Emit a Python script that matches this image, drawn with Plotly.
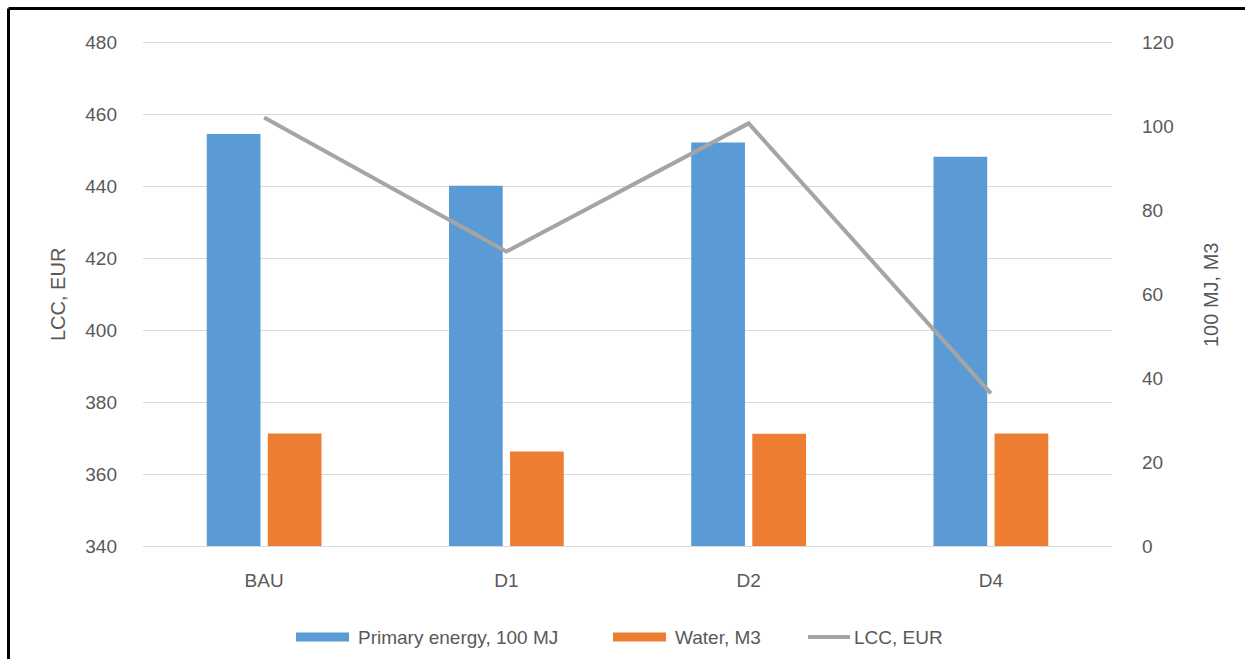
import plotly.graph_objects as go

categories = ["BAU", "D1", "D2", "D4"]
primary_energy = [98.1, 85.8, 96.1, 92.7]   # 100 MJ (right axis)
water = [26.8, 22.5, 26.7, 26.8]            # M3 (right axis)
lcc = [459.0, 421.8, 457.4, 382.4]          # EUR (left axis)

left_ticks = [340, 360, 380, 400, 420, 440, 460, 480]
right_ticks = [0, 20, 40, 60, 80, 100, 120]

BLUE = "#5B9BD5"
ORANGE = "#ED7D31"
GRAY = "#A5A5A5"
TEXT = "#595959"
FONT = "Liberation Sans, Arial, sans-serif"

fig = go.Figure()
fig.add_trace(go.Bar(x=categories, y=primary_energy, name="Primary energy, 100 MJ",
                     marker=dict(color=BLUE, line=dict(width=0)), yaxis="y", showlegend=False))
fig.add_trace(go.Bar(x=categories, y=water, name="Water, M3",
                     marker=dict(color=ORANGE, line=dict(width=0)), yaxis="y", showlegend=False))
fig.add_trace(go.Scatter(x=categories, y=lcc, name="LCC, EUR", mode="lines",
                         line=dict(color=GRAY, width=4), yaxis="y2", showlegend=False))

W, H = 1245, 659
# data frame: 480 / 120 at y=42, 340 / 0 at y=546; plot area padded by 2px so edge gridlines show
PAD = 2
L, R, T, B = 143, 1112, 42 - PAD, 546 + PAD

pl = PAD * 140 / 504
pr = PAD * 120 / 504

fig.update_layout(
    width=W, height=H,
    margin=dict(l=L, r=W - R, t=T, b=H - B, pad=0),
    paper_bgcolor="white", plot_bgcolor="white",
    font=dict(family=FONT, color=TEXT, size=19),
    barmode="group", bargap=0.496, bargroupgap=0.12,
    showlegend=False,
    xaxis=dict(type="category", showgrid=False, showline=False, zeroline=False, ticks="",
               tickfont=dict(size=19, color=TEXT), ticklabelstandoff=19),
    yaxis=dict(side="right", range=[-pr, 120 + pr], tickvals=right_ticks, showgrid=False,
               zeroline=False, showline=False, ticks="", tickfont=dict(size=19, color=TEXT),
               ticklabelstandoff=29),
    yaxis2=dict(side="left", overlaying="y", range=[340 - pl, 480 + pl], tickvals=left_ticks,
                showgrid=True, gridcolor="#D9D9D9", gridwidth=1, zeroline=False, showline=False,
                ticks="", tickfont=dict(size=19, color=TEXT), ticklabelstandoff=25),
)

def px_x(px):
    return (px - L) / (R - L)

def px_y(py):
    return (B - py) / (B - T)

# axis titles
fig.add_annotation(text="LCC, EUR", xref="paper", yref="paper", x=px_x(58), y=px_y(295),
                   textangle=-90, showarrow=False, font=dict(size=20, color=TEXT),
                   xanchor="center", yanchor="middle")
fig.add_annotation(text="100 MJ, M3", xref="paper", yref="paper", x=px_x(1211), y=px_y(295),
                   textangle=-90, showarrow=False, font=dict(size=20, color=TEXT),
                   xanchor="center", yanchor="middle")

# custom legend (Excel style wide swatches)
LEG_Y = 637
legend_items = [
    ("rect", BLUE, 296, 349, "Primary energy, 100 MJ", 356),
    ("rect", ORANGE, 613, 666, "Water, M3", 673),
    ("line", GRAY, 808, 850, "LCC, EUR", 852),
]
for kind, color, x0, x1, label, tx in legend_items:
    if kind == "rect":
        fig.add_shape(type="rect", xref="paper", yref="paper", x0=px_x(x0), x1=px_x(x1),
                      y0=px_y(LEG_Y - 4.5), y1=px_y(LEG_Y + 4.5),
                      fillcolor=color, line=dict(width=0))
    else:
        fig.add_shape(type="line", xref="paper", yref="paper", x0=px_x(x0), x1=px_x(x1),
                      y0=px_y(LEG_Y), y1=px_y(LEG_Y), line=dict(color=color, width=4))
    fig.add_annotation(text=label, xref="paper", yref="paper", x=px_x(tx), y=px_y(LEG_Y),
                       xanchor="left", yanchor="middle", showarrow=False,
                       font=dict(size=19, color=TEXT))

# frame (left and top border of the cropped figure)
fig.add_shape(type="line", xref="paper", yref="paper", x0=px_x(8.5), x1=px_x(8.5),
              y0=px_y(8.5), y1=px_y(665), line=dict(color="black", width=3))
fig.add_shape(type="line", xref="paper", yref="paper", x0=px_x(8.5), x1=px_x(1250),
              y0=px_y(8.5), y1=px_y(8.5), line=dict(color="black", width=3))

fig.write_html("out.html", config={"displayModeBar": False},
               post_script="document.body.style.margin='0';document.body.style.overflow='hidden';")
